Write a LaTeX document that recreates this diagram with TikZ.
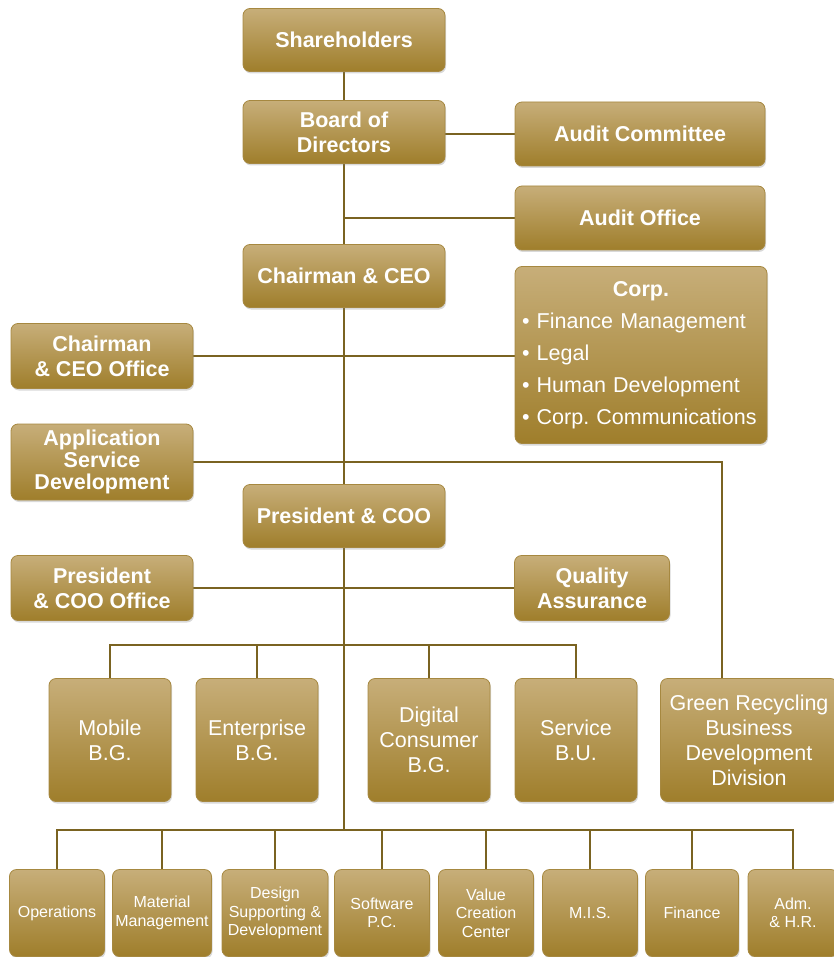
\documentclass[tikz,border=0pt]{standalone}
\usepackage{fontspec}
\setmainfont{Liberation Sans}
\usetikzlibrary{shadows, backgrounds}

\definecolor{goldtop}{RGB}{199,174,121}
\definecolor{goldbot}{RGB}{159,126,43}
\definecolor{goldedge}{RGB}{166,136,64}
\definecolor{goldline}{RGB}{122,99,33}

\tikzset{
  box/.style={draw=goldedge, line width=0.8pt, rounded corners=7pt,
    top color=goldtop, bottom color=goldbot, text=white, align=center,
    inner sep=0pt, drop shadow={shadow xshift=1pt, shadow yshift=-2pt, opacity=0.3}},
  headbox/.style={box, font=\bfseries\fontsize{21.5}{25}\selectfont,
    minimum width=202pt, minimum height=63pt},
  sidebox/.style={box, font=\bfseries\fontsize{21.5}{25}\selectfont, minimum height=64pt},
  unitbox/.style={box, font=\fontsize{21.5}{25}\selectfont,
    minimum width=122pt, minimum height=123pt},
  deptbox/.style={box, font=\fontsize{16}{18.5}\selectfont, minimum height=87pt},
  link/.style={goldline, line width=2pt}
}

\begin{document}
\begin{tikzpicture}[x=1pt, y=-1pt]
\useasboundingbox (0,0) rectangle (834,957);

% top of the chart
\node[headbox] (share) at (344,40) {Shareholders};
\node[headbox] (board) at (344,132) {Board of\\Directors};
\node[sidebox, minimum width=250pt] (auditc) at (640,134) {Audit Committee};
\node[sidebox, minimum width=250pt] (auditoff) at (640,218) {Audit Office};
\node[headbox] (ceo) at (344,276) {Chairman \& CEO};
\node[box, minimum width=252pt, minimum height=177pt, text width=238pt, align=left,
  font=\fontsize{21.5}{32}\selectfont] (corp) at (641,355)
  {\makebox[238pt]{\bfseries Corp.}\\• Finance Management\\• Legal\\• Human Development\\• Corp.~Communications};
\node[sidebox, minimum width=182pt, minimum height=65pt] (ceooff) at (102,356) {Chairman\\\& CEO Office};
\node[sidebox, minimum width=182pt, minimum height=76pt,
  font=\bfseries\fontsize{21.5}{22}\selectfont] (asd) at (102,462) {Application\\Service\\Development};
\node[headbox] (pres) at (344,516) {President \& COO};
\node[sidebox, minimum width=182pt, minimum height=65pt] (presoff) at (102,588) {President\\\& COO Office};
\node[sidebox, minimum width=155pt, minimum height=65pt] (qa) at (592,588) {Quality\\Assurance};

% business groups
\node[unitbox] (mob) at (110,740) {Mobile\\B.G.};
\node[unitbox] (ent) at (257,740) {Enterprise\\B.G.};
\node[unitbox] (dig) at (429,740) {Digital\\Consumer\\B.G.};
\node[unitbox] (serv) at (576,740) {Service\\B.U.};
\node[unitbox, minimum width=177pt] (green) at (749,740) {Green Recycling\\Business\\Development\\Division};

% departments
\node[deptbox, minimum width=95pt] (op) at (57,913) {Operations};
\node[deptbox, minimum width=99pt] (mat) at (162,913) {Material\\Management};
\node[deptbox, minimum width=106pt] (des) at (275,913) {Design\\Supporting \&\\Development};
\node[deptbox, minimum width=95pt] (sw) at (382,913) {Software\\P.C.};
\node[deptbox, minimum width=95pt] (val) at (486,913) {Value\\Creation\\Center};
\node[deptbox, minimum width=95pt] (mis) at (590,913) {M.I.S.};
\node[deptbox, minimum width=93pt] (fin) at (692,913) {Finance};
\node[deptbox, minimum width=90pt] (adm) at (793,913) {Adm.\\\& H.R.};

\begin{scope}[on background layer]
\coordinate (bgbus) at (344,645);
\coordinate (bus) at (344,830);
\coordinate (turn) at (722,462);
\draw[link] (share.south) -- (bus);
\draw[link] (auditc.west) -- (auditc.west -| board.east);
\draw[link] (auditoff.west) -- (auditoff.west -| board.south);
\draw[link] (ceooff.east) -- (ceooff.east -| corp.west);
\draw[link] (asd.east) -- (turn) -- (turn |- green.north);
\draw[link] (presoff.east) -- (qa.west);
\draw[link] (mob.north) |- (bgbus) -| (serv.north);
\foreach \n in {ent,dig}
  \draw[link] (\n.north) -- (\n.north |- bgbus);
\draw[link] (op.north) |- (bus) -| (adm.north);
\foreach \n in {mat,des,sw,val,mis,fin}
  \draw[link] (\n.north) -- (\n.north |- bus);
\end{scope}
\end{tikzpicture}
\end{document}
